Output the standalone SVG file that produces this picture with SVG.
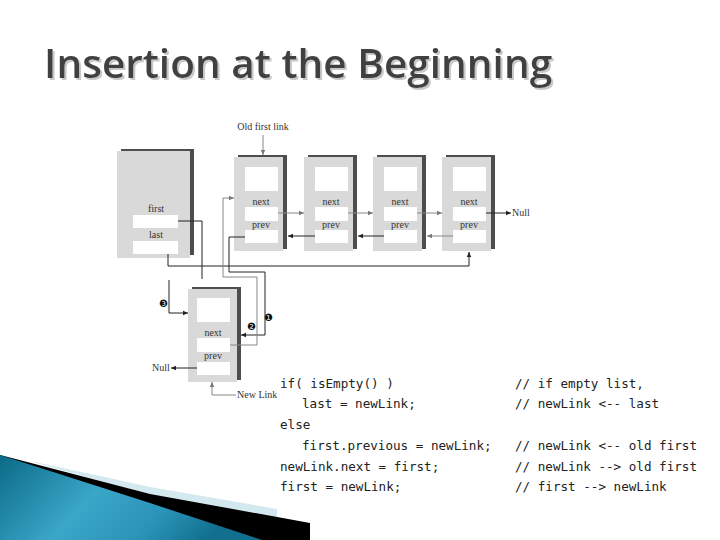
<svg xmlns="http://www.w3.org/2000/svg" width="720" height="540" viewBox="0 0 720 540">
<defs>
<style>
.t{font-family:"Liberation Serif",serif;font-size:10px;fill:#333}
.code{font-family:"DejaVu Sans Mono",monospace;font-size:12.6px;fill:#222}
.face{fill:#d9d9d9}
.side{fill:#4d4d4d}
.fld{fill:#fff}
.ln{fill:none;stroke:#222;stroke-width:1}
.lg{fill:none;stroke:#888;stroke-width:1}
.num{font-family:"DejaVu Sans",sans-serif;font-size:10px;fill:#111}
</style>
<filter id="sh" x="-5%" y="-20%" width="110%" height="150%">
<feOffset in="SourceAlpha" dx="2" dy="2" result="o"/>
<feFlood flood-color="#c8c8c8"/>
<feComposite in2="o" operator="in" result="s"/>
<feMerge><feMergeNode in="s"/><feMergeNode in="SourceGraphic"/></feMerge>
</filter>
<marker id="ah" markerWidth="6" markerHeight="6" refX="5" refY="3" orient="auto" markerUnits="userSpaceOnUse">
<path d="M0,0.8 L5,3 L0,5.2 Z" fill="#222"/>
</marker>
<marker id="ahg" markerWidth="6" markerHeight="6" refX="5" refY="3" orient="auto" markerUnits="userSpaceOnUse">
<path d="M0,0.8 L5,3 L0,5.2 Z" fill="#777"/>
</marker>
<linearGradient id="blue" x1="0" y1="0" x2="1" y2="0.3">
<stop offset="0" stop-color="#0b6a86"/>
<stop offset="0.45" stop-color="#3aa6c8"/>
<stop offset="0.75" stop-color="#2a94b8"/>
<stop offset="1" stop-color="#126f8e"/>
</linearGradient>
</defs>
<rect width="720" height="540" fill="#fff"/>

<!-- decoration -->
<g id="decor">
<polygon points="30,461 100,476 150,487 277,509 277,519 150,495 40,464" fill="#d4e8ef"/>
<polygon points="8,457 150,494 310,523 310,540 0,540 0,455" fill="#000"/>
<polygon points="0,455 150,503 262,540 0,540" fill="url(#blue)"/>
</g>

<!-- title -->
<g id="title">
<text x="44" y="78" font-family="'Open Sans',sans-serif" font-weight="600" font-size="40.6" fill="#404040" filter="url(#sh)">Insertion at the Beginning</text>
</g>

<!-- left box (first / last) -->
<g id="listbox">
<rect class="side" x="121" y="149" width="73" height="106"/>
<rect class="face" x="117" y="151" width="73" height="107"/>
<text class="t" x="156" y="212" text-anchor="middle">first</text>
<rect class="fld" x="133" y="215" width="45" height="13"/>
<text class="t" x="156" y="238" text-anchor="middle">last</text>
<rect class="fld" x="133" y="241" width="45" height="13"/>
</g>

<!-- nodes -->
<g id="node1">
<rect class="side" x="238" y="155" width="49" height="94"/>
<rect class="face" x="234" y="157" width="49" height="94"/>
<rect class="fld" x="245" y="167" width="33" height="24"/>
<text class="t" x="261" y="205" text-anchor="middle">next</text>
<rect class="fld" x="245" y="207" width="33" height="14"/>
<text class="t" x="261" y="228" text-anchor="middle">prev</text>
<rect class="fld" x="245" y="230" width="33" height="13"/>
</g>
<g id="node2">
<rect class="side" x="308" y="155" width="49" height="94"/>
<rect class="face" x="304" y="157" width="49" height="94"/>
<rect class="fld" x="315" y="167" width="33" height="24"/>
<text class="t" x="331" y="205" text-anchor="middle">next</text>
<rect class="fld" x="315" y="207" width="33" height="14"/>
<text class="t" x="331" y="228" text-anchor="middle">prev</text>
<rect class="fld" x="315" y="230" width="33" height="13"/>
</g>
<g id="node3">
<rect class="side" x="377" y="155" width="49" height="94"/>
<rect class="face" x="373" y="157" width="49" height="94"/>
<rect class="fld" x="384" y="167" width="33" height="24"/>
<text class="t" x="400" y="205" text-anchor="middle">next</text>
<rect class="fld" x="384" y="207" width="33" height="14"/>
<text class="t" x="400" y="228" text-anchor="middle">prev</text>
<rect class="fld" x="384" y="230" width="33" height="13"/>
</g>
<g id="node4">
<rect class="side" x="446" y="155" width="49" height="94"/>
<rect class="face" x="442" y="157" width="49" height="94"/>
<rect class="fld" x="453" y="167" width="33" height="24"/>
<text class="t" x="469" y="205" text-anchor="middle">next</text>
<rect class="fld" x="453" y="207" width="33" height="14"/>
<text class="t" x="469" y="228" text-anchor="middle">prev</text>
<rect class="fld" x="453" y="230" width="33" height="13"/>
</g>
<g id="newnode">
<rect class="side" x="192" y="287" width="49" height="93"/>
<rect class="face" x="188" y="289" width="49" height="93"/>
<rect class="fld" x="197" y="298" width="33" height="24"/>
<text class="t" x="213" y="336" text-anchor="middle">next</text>
<rect class="fld" x="197" y="338" width="33" height="14"/>
<text class="t" x="213" y="359" text-anchor="middle">prev</text>
<rect class="fld" x="197" y="362" width="33" height="13"/>
</g>

<!-- labels -->
<g id="labels">
<text class="t" x="263" y="130" text-anchor="middle">Old first link</text>
<text class="t" x="512" y="216">Null</text>
<text class="t" x="152" y="371">Null</text>
<text class="t" x="237" y="398">New Link</text>
<text class="num" x="264" y="321">❶</text>
<text class="num" x="247" y="330">❷</text>
<text class="num" x="159" y="307">❸</text>
</g>

<!-- connectors -->
<g id="connectors">
<path class="lg" d="M263,135 V155" marker-end="url(#ahg)"/>
<path class="lg" d="M278,213 H304" marker-end="url(#ahg)"/>
<path class="lg" d="M348,213 H373" marker-end="url(#ahg)"/>
<path class="lg" d="M417,213 H442" marker-end="url(#ahg)"/>
<path class="ln" d="M486,213 H511" marker-end="url(#ah)"/>
<path class="ln" d="M315,236 H288" marker-end="url(#ah)"/>
<path class="ln" d="M384,236 H358" marker-end="url(#ah)"/>
<path class="lg" d="M453,236 H427" marker-end="url(#ahg)"/>
<path class="ln" d="M178,221 H202 V279"/>
<path class="ln" d="M168,254 V266 H469 V252" marker-end="url(#ah)"/>
<path class="ln" d="M245,237 H229 V272 H265 V335 H241" marker-end="url(#ah)"/>
<path class="lg" d="M230,345 H257 V277 H223 V198 H234" marker-end="url(#ahg)"/>
<path class="ln" d="M169,280 V313 H188" marker-end="url(#ah)"/>
<path class="ln" d="M197,368 H171" marker-end="url(#ah)"/>
<path class="lg" d="M236,395 H212 V382" marker-end="url(#ahg)"/>
</g>

<!-- code -->
<g id="code">
<text class="code" x="280" y="388">if( isEmpty() )</text>
<text class="code" x="302" y="408">last = newLink;</text>
<text class="code" x="280" y="429">else</text>
<text class="code" x="302" y="450">first.previous = newLink;</text>
<text class="code" x="280" y="471">newLink.next = first;</text>
<text class="code" x="280" y="491">first = newLink;</text>
<text class="code" x="515" y="388">// if empty list,</text>
<text class="code" x="515" y="408">// newLink &lt;-- last</text>
<text class="code" x="515" y="450">// newLink &lt;-- old first</text>
<text class="code" x="515" y="471">// newLink --&gt; old first</text>
<text class="code" x="515" y="491">// first --&gt; newLink</text>
</g>
</svg>
